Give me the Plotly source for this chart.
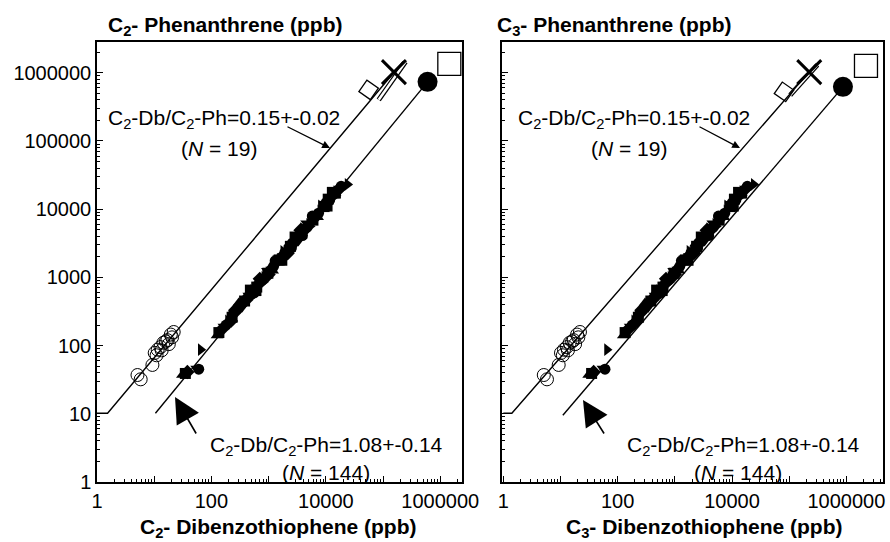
import numpy as np
import plotly.graph_objects as go

FONT = "Liberation Sans, Arial, Helvetica, sans-serif"
W, H = 890, 542

# ---- tick labels ----
tick_vals = [1, 10, 100, 1000, 10000, 100000, 1000000]
y_tick_text = ["1", "10", "100", "1000", "10000", "100000", "1000000"]
x_tick_text = ["1", "", "100", "", "10000", "", "1000000"]

# ---- open circles (C2-Db/C2-Ph = 0.15 group) ----
circle_x = [5.1, 5.8, 9.3, 10.2, 11.5, 12.9, 14.5, 17.0, 19.5, 21.9, 11.0, 13.5, 16.0, 18.0, 20.5]
circle_y = [37, 32, 52, 78, 87, 95, 110, 120, 145, 158, 72, 85, 115, 105, 132]

# ---- filled markers (C2-Db/C2-Ph = 1.08 group) ----
band_x = [31, 35, 38, 55, 60, 65, 125, 135, 150, 165, 180, 195, 210, 230, 250, 270, 290, 320,
          350, 380, 410, 450, 490, 530, 570, 620, 670, 720, 780, 840, 900, 970, 1050, 1130,
          1220, 1320, 1420, 1530, 1650, 1780, 1920, 2070, 2230, 2400, 2600, 2800, 3000, 3250,
          3500, 3780, 4080, 4400, 4750, 5100, 5500, 5950, 6400, 6900, 7450, 8000, 8650, 9300,
          10000, 10800, 11700, 12600, 13600, 14700, 15900, 17100, 18500, 24000,
          400, 600, 1000, 1500, 2500, 4000, 7000, 11000, 260, 3300, 6000, 15000,
          300, 480, 700, 950, 1300, 1800, 2300, 2900, 3600, 4600, 5800, 8200, 9800, 13000,
          220, 340, 560, 820, 1180, 1700, 2150, 2700, 3900, 5300, 7200, 10500]
band_y = [37, 39, 41, 46, 45, 87, 140, 155, 170, 190, 200, 230, 250, 260, 300, 310, 350, 360,
          420, 450, 470, 540, 560, 640, 680, 720, 800, 840, 920, 1000, 1050, 1150, 1250, 1300,
          1450, 1550, 1650, 1800, 1950, 2050, 2300, 2450, 2600, 2850, 3100, 3250, 3550, 3800,
          4150, 4400, 4800, 5200, 5500, 6000, 6500, 6900, 7500, 8100, 8700, 9400, 10100, 10900,
          11800, 12600, 13700, 14800, 15900, 17200, 18600, 20000, 21600, 23000,
          520, 640, 1100, 1900, 2700, 5200, 7600, 14000, 330, 3400, 7600, 16000,
          420, 650, 950, 1250, 1750, 2400, 3100, 3900, 4900, 6200, 7900, 11200, 13400, 17600,
          230, 360, 590, 860, 1250, 1780, 2250, 2850, 4100, 5600, 7600, 11100]

# ---- reference lines ----
upper_line_x_L = [1, 1.53, 224000]
upper_line_y_L = [10.2, 10.2, 1460000]
lower_line_x_L = [10.5, 600000]
lower_line_y_L = [10.2, 735000]
upper_line_x_R = [1, 1.41, 240000]
upper_line_y_R = [10.2, 10.2, 1100000]
lower_line_x_R = [11, 870000]
lower_line_y_R = [9.5, 620000]

# ---- individual high-concentration samples ----
tilted_sq_L = ([56000], [560000])
cross_L = ([155000], [1020000])
dot_L = ([600000], [735000])
square_L = ([1440000], [1350000])
double_L = ([84000, 247000], [400000, 1440000])

tilted_sq_R = ([81000], [525000])
cross_R = ([224000], [1020000])
dot_R = ([870000], [620000])
square_R = ([2200000], [1260000])
double_R = ([104000, 310000], [470000, 1300000])

# ---- layout geometry (pixels) ----
XL = (97, 462)
XR = (502, 883)
YT, YB = 42, 482
xrange_L = [0.0, 6.38]
xrange_R = [-0.023, 6.64]
yrange = [0.0, 6.45]


def px_to_logx(px, dom, rng):
    return rng[0] + (px - dom[0]) / (dom[1] - dom[0]) * (rng[1] - rng[0])


def py_to_logy(py):
    return yrange[0] + (YB - py) / (YB - YT) * (yrange[1] - yrange[0])


fig = go.Figure()

band_symbols = ["triangle-up", "square", "diamond", "triangle-down", "circle", "triangle-right"]

for k, (xa, ya) in enumerate([("x", "y"), ("x2", "y2")]):
    if k == 0:
        ux, uy, lx, ly = upper_line_x_L, upper_line_y_L, lower_line_x_L, lower_line_y_L
        tsq, crs, dot, sq, dbl = tilted_sq_L, cross_L, dot_L, square_L, double_L
    else:
        ux, uy, lx, ly = upper_line_x_R, upper_line_y_R, lower_line_x_R, lower_line_y_R
        tsq, crs, dot, sq, dbl = tilted_sq_R, cross_R, dot_R, square_R, double_R
    fig.add_trace(go.Scatter(x=dbl[0], y=dbl[1], mode="lines", line=dict(color="black", width=5),
                             xaxis=xa, yaxis=ya, showlegend=False, hoverinfo="skip"))
    fig.add_trace(go.Scatter(x=dbl[0], y=dbl[1], mode="lines", line=dict(color="white", width=2.5),
                             xaxis=xa, yaxis=ya, showlegend=False, hoverinfo="skip"))
    fig.add_trace(go.Scatter(x=ux, y=uy, mode="lines", line=dict(color="black", width=1.4),
                             xaxis=xa, yaxis=ya, showlegend=False))
    fig.add_trace(go.Scatter(x=lx, y=ly, mode="lines", line=dict(color="black", width=1.4),
                             xaxis=xa, yaxis=ya, showlegend=False))
    fig.add_trace(go.Scatter(x=circle_x, y=circle_y, mode="markers",
                             marker=dict(symbol="circle-open", size=13, color="black", line=dict(width=1)),
                             xaxis=xa, yaxis=ya, showlegend=False))
    fig.add_trace(go.Scatter(x=band_x, y=band_y, mode="markers",
                             marker=dict(symbol=[band_symbols[i % len(band_symbols)] for i in range(len(band_x))],
                                         size=11, color="black", line=dict(width=0)),
                             xaxis=xa, yaxis=ya, showlegend=False))
    fig.add_trace(go.Scatter(x=tsq[0], y=tsq[1], mode="markers",
                             marker=dict(symbol="square-open", size=14, angle=35, color="black",
                                         line=dict(width=1.3)),
                             xaxis=xa, yaxis=ya, showlegend=False))
    fig.add_trace(go.Scatter(x=crs[0], y=crs[1], mode="markers",
                             marker=dict(symbol="x-thin-open", size=24, color="black",
                                         line=dict(width=3, color="black")),
                             xaxis=xa, yaxis=ya, showlegend=False))
    fig.add_trace(go.Scatter(x=dot[0], y=dot[1], mode="markers",
                             marker=dict(symbol="circle", size=20, color="black"),
                             xaxis=xa, yaxis=ya, showlegend=False))
    fig.add_trace(go.Scatter(x=sq[0], y=sq[1], mode="markers",
                             marker=dict(symbol="square-open", size=23, color="black",
                                         line=dict(width=1.3)),
                             xaxis=xa, yaxis=ya, showlegend=False))

minor_vals = [m * 10 ** e for e in range(0, 7) for m in range(2, 10)]

axis_common = dict(type="log", showgrid=False, zeroline=False, showline=True, linecolor="black",
                   linewidth=1.5, mirror=True, ticks="inside", ticklen=6, tickwidth=1.2,
                   tickcolor="black", tickmode="array", tickvals=tick_vals, automargin=False,
                   tickfont=dict(family=FONT, size=20, color="black"),
                   minor=dict(ticks="inside", ticklen=3, tickwidth=1, tickcolor="black",
                              tickmode="array", tickvals=minor_vals, showgrid=False))

fig.update_layout(
    template="none",
    width=W, height=H, margin=dict(l=0, r=0, t=0, b=0, autoexpand=False),
    paper_bgcolor="white", plot_bgcolor="white", showlegend=False,
    xaxis=dict(axis_common, range=xrange_L, domain=[XL[0] / W, XL[1] / W], anchor="y",
               ticktext=x_tick_text, ticklabelstandoff=0),
    yaxis=dict(axis_common, range=yrange, domain=[1 - YB / H, 1 - YT / H], anchor="x",
               ticktext=y_tick_text, ticklabelstandoff=0),
    xaxis2=dict(axis_common, range=xrange_R, domain=[XR[0] / W, XR[1] / W], anchor="y2",
                ticktext=x_tick_text, ticklabelstandoff=0),
    yaxis2=dict(axis_common, range=yrange, domain=[1 - YB / H, 1 - YT / H], anchor="x2",
                ticktext=y_tick_text, showticklabels=False),
)

ann = []


def ptext(text, px, py, size=21, xanchor="center", bold=False):
    if bold:
        text = "<b>" + text + "</b>"
    ann.append(dict(text=text, x=px / W, y=1 - py / H, xref="paper", yref="paper",
                    xanchor=xanchor, yanchor="middle", showarrow=False,
                    font=dict(family=FONT, size=size, color="black")))


ptext("C<sub>2</sub>- Phenanthrene (ppb)", 106, 26, size=21, xanchor="left", bold=True)
ptext("C<sub>3</sub>- Phenanthrene (ppb)", 495, 26, size=21, xanchor="left", bold=True)
ptext("C<sub>2</sub>- Dibenzothiophene (ppb)", 278, 528, size=21, bold=True)
ptext("C<sub>3</sub>- Dibenzothiophene (ppb)", 704, 528, size=21, bold=True)

lbl_hi = "C<sub>2</sub>-Db/C<sub>2</sub>-Ph=0.15+-0.02"
lbl_lo = "C<sub>2</sub>-Db/C<sub>2</sub>-Ph=1.08+-0.14"
ptext(lbl_hi, 224, 119)
ptext("(<i>N</i> = 19)", 219, 148)
ptext(lbl_lo, 326, 446)
ptext("(<i>N</i> = 144)", 326, 472)
ptext(lbl_hi, 634, 119)
ptext("(<i>N</i> = 19)", 629, 148)
ptext(lbl_lo, 743, 446)
ptext("(<i>N</i> = 144)", 738, 472)


def arrow(xa, ya, dom, rng, head, tail, size, width):
    ann.append(dict(text="", x=px_to_logx(head[0], dom, rng), y=py_to_logy(head[1]),
                    xref=xa, yref=ya, ax=tail[0] - head[0], ay=tail[1] - head[1],
                    axref="pixel", ayref="pixel", showarrow=True, arrowhead=2,
                    arrowsize=size, arrowwidth=width, arrowcolor="black", standoff=0))


arrow("x", "y", XL, xrange_L, (330, 148), (286, 126), 1.2, 1.3)
arrow("x", "y", XL, xrange_L, (175, 397), (197, 435), 3.2, 1.6)
arrow("x2", "y2", XR, xrange_R, (740, 148), (698, 126), 1.2, 1.3)
arrow("x2", "y2", XR, xrange_R, (583, 400), (605, 435), 3.2, 1.6)

fig.update_layout(annotations=ann)

fig.write_html("out.html", config={"displayModeBar": False},
               post_script="document.body.style.margin='0';document.body.style.padding='0';")
